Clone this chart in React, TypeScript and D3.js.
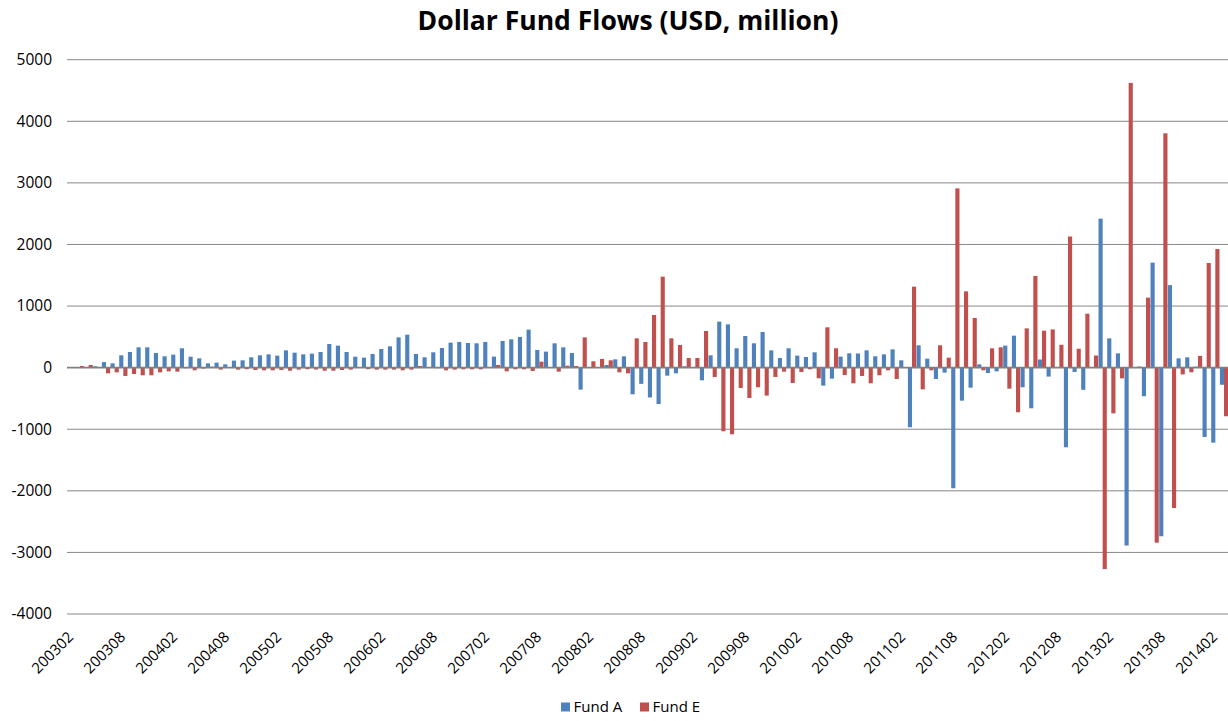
import React from "react";
import * as d3 from "d3";

const months: string[] = [
  "200302","200303","200304","200305","200306","200307","200308","200309","200310","200311","200312",
  "200401","200402","200403","200404","200405","200406","200407","200408","200409","200410","200411","200412",
  "200501","200502","200503","200504","200505","200506","200507","200508","200509","200510","200511","200512",
  "200601","200602","200603","200604","200605","200606","200607","200608","200609","200610","200611","200612",
  "200701","200702","200703","200704","200705","200706","200707","200708","200709","200710","200711","200712",
  "200801","200802","200803","200804","200805","200806","200807","200808","200809","200810","200811","200812",
  "200901","200902","200903","200904","200905","200906","200907","200908","200909","200910","200911","200912",
  "201001","201002","201003","201004","201005","201006","201007","201008","201009","201010","201011","201012",
  "201101","201102","201103","201104","201105","201106","201107","201108","201109","201110","201111","201112",
  "201201","201202","201203","201204","201205","201206","201207","201208","201209","201210","201211","201212",
  "201301","201302","201303","201304","201305","201306","201307","201308","201309","201310","201311","201312",
  "201401","201402","201403",
];

const fundA: number[] = [
  0, 0, 0, 22, 90, 70, 200, 254, 330, 330, 238,
  184, 211, 314, 178, 151, 70, 81, 54, 114, 119, 168, 200,
  216, 195, 281, 243, 216, 227, 254, 384, 357, 254, 178, 162,
  222, 303, 346, 492, 535, 222, 168, 249, 319, 406, 417, 400,
  395, 417, 179, 433, 460, 498, 617, 287, 260, 395, 330, 238,
  -357, 0, 0, 43, 135, 184, -433, -263, -484, -590, -130, -92,
  22, 0, -206, 200, 747, 703, 314, 514, 395, 579, 281, 157,
  314, 195, 173, 249, -292, -179, 179, 233, 230, 281, 184, 216,
  297, 119, -968, 363, 146, -184, -81, -1958, -536, -325, 54, -87,
  -60, 357, 519, -319, -660, 132, -145, 0, -1293, -70, -360, 0,
  2419, 476, 232, -2888, 0, -464, 1705, -2738, 1340, 151, 168, 17,
  -1125, -1218, -278,
];

const fundE: number[] = [
  8, 27, 43, 0, -92, -76, -135, -103, -124, -124, -76,
  -60, -65, -10, -43, -15, 15, -32, 0, -32, -25, -38, -43,
  -43, -38, -49, -32, -25, -30, -49, -49, -38, -32, 0, -25,
  -32, -32, -32, -43, -32, 27, 0, -10, -43, -32, -27, -27,
  -27, 0, 43, -60, -27, -27, -54, 97, 0, -65, 32, 27,
  492, 103, 141, 119, -76, -92, 476, 417, 855, 1477, 476, 368,
  157, 157, 595, -151, -1033, -1082, -330, -492, -319, -454, -151, -65,
  -249, -70, -27, -173, 655, 314, -119, -254, -135, -254, -124, -43,
  -184, 0, 1315, -352, -43, 363, 162, 2911, 1239, 806, -43, 314,
  330, -341, -725, 638, 1488, 600, 621, 371, 2129, 307, 876, 197,
  -3271, -742, -174, 4623, 17, 1137, -2842, 3805, -2279, -110, -75, 191,
  1699, 1926, -789,
];

const seriesNames = ["Fund A", "Fund E"];
const seriesColors = ["#4F81BD", "#C0504D"];
const yTicks = [5000, 4000, 3000, 2000, 1000, 0, -1000, -2000, -3000, -4000];
const labelEvery = 6;

const W = 1228;
const H = 721;
const FONT = "'Open Sans', 'DejaVu Sans', sans-serif";

export default function App() {
  const left = 67;
  const right = 67 + 134 * (1144 / 132);
  const top = 59.7;
  const bottom = 614;

  const x = d3.scaleBand<string>().domain(months).range([left, right]).padding(0);
  const inner = d3
    .scaleBand<string>()
    .domain(seriesNames)
    .range([0, x.bandwidth()])
    .paddingInner(0)
    .paddingOuter(0.05);
  const y = d3.scaleLinear().domain([-4000, 5000]).range([bottom, top]);

  const series = [fundA, fundE];

  return (
    <svg
      width={W}
      height={H}
      style={{ position: "absolute", left: 0, top: 0, background: "#fff" }}
      fontFamily={FONT}
    >
      <rect x={0} y={0} width={W} height={H} fill="#fff" />
      <text
        x={628}
        y={30}
        textAnchor="middle"
        fontWeight="bold"
        fontSize={26.5}
        fill="#000"
      >
        Dollar Fund Flows (USD, million)
      </text>

      {yTicks.map((t) => (
        <g key={t}>
          {t !== 0 && (
            <line
              x1={left}
              x2={W}
              y1={y(t)}
              y2={y(t)}
              stroke="#878787"
              strokeWidth={1}
            />
          )}
          <text
            x={52}
            y={y(t)}
            dy="0.35em"
            textAnchor="end"
            fontSize={15.5}
            fill="#000"
          >
            {t}
          </text>
        </g>
      ))}

      {series.map((vals, si) =>
        vals.map((v, i) => {
          const m = months[i];
          const x0 = (x(m) as number) + (inner(seriesNames[si]) as number);
          const y0 = y(Math.max(0, v));
          const h = Math.abs(y(v) - y(0));
          return (
            <rect
              key={si + "-" + i}
              x={x0}
              y={y0}
              width={inner.bandwidth()}
              height={h}
              fill={seriesColors[si]}
            />
          );
        })
      )}

      <line
        x1={left}
        x2={W}
        y1={y(0)}
        y2={y(0)}
        stroke="#808080"
        strokeWidth={1.75}
      />

      {months.map((m, i) =>
        i % labelEvery === 0 ? (
          <text
            key={m}
            transform={`translate(${(x(m) as number) + x.bandwidth() / 2 + 3},638) rotate(-45)`}
            textAnchor="end"
            fontSize={15}
            fill="#000"
          >
            {m}
          </text>
        ) : null
      )}

      {seriesNames.map((n, i) => {
        const lx = i === 0 ? 561 : 640;
        return (
          <g key={n}>
            <rect x={lx} y={702.5} width={9} height={9} fill={seriesColors[i]} />
            <text x={lx + 12.5} y={712} fontSize={15} fill="#000">
              {n}
            </text>
          </g>
        );
      })}
    </svg>
  );
}
